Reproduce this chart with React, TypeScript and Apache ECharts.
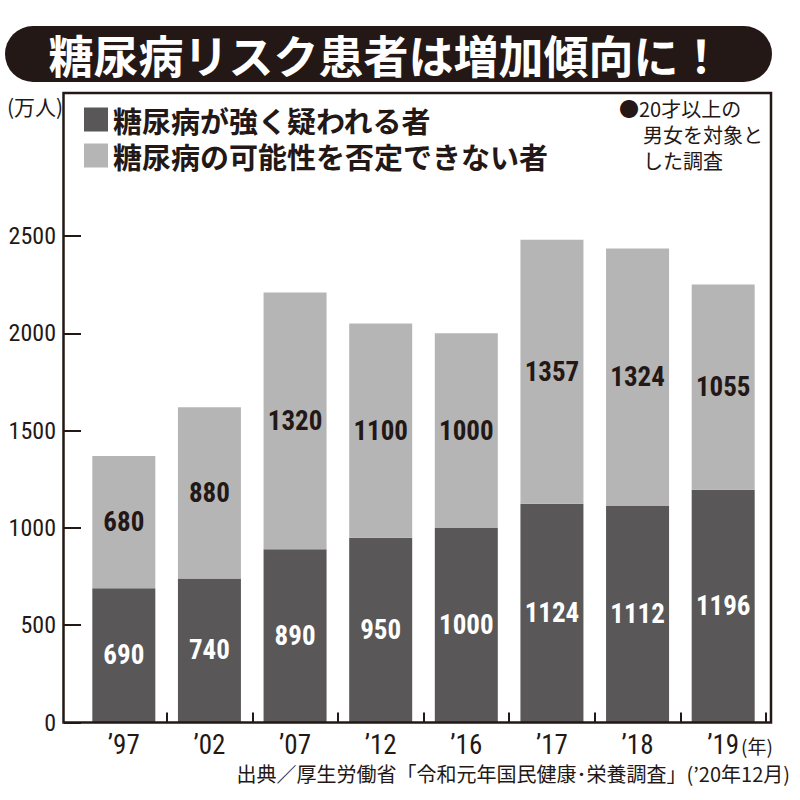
import React, { useEffect, useRef } from "react";
import * as echarts from "echarts";

const years = ["’97", "’02", "’07", "’12", "’16", "’17", "’18", "’19"];
const strongSuspected = [690, 740, 890, 950, 1000, 1124, 1112, 1196];
const cannotDeny = [680, 880, 1320, 1100, 1000, 1357, 1324, 1055];
const seriesNames = ["糖尿病が強く疑われる者", "糖尿病の可能性を否定できない者"];
const noteLines = ["●20才以上の", "男女を対象と", "した調査"];

const INK = "#231815";
const DARK = "#595757";
const LIGHT = "#b5b5b5";
const NUM_FONT = "'Roboto Condensed', 'Liberation Sans Narrow', 'DejaVu Sans Condensed', Roboto, sans-serif";
const JP_FONT = "'Noto Sans CJK JP', 'Noto Sans', sans-serif";

export default function App() {
  const ref = useRef<HTMLDivElement>(null);
  useEffect(() => {
    document.body.style.margin = "0";
    if (!ref.current) return;
    const chart = echarts.init(ref.current, null, { renderer: "svg" });
    chart.setOption({
      animation: false,
      backgroundColor: "#ffffff",
      grid: {
        left: 81,
        right: 34,
        top: 236,
        bottom: 77.5,
        containLabel: false,
        outerBoundsMode: "none",
      },
      legend: {
        orient: "vertical",
        left: 79,
        top: 99,
        itemWidth: 24,
        itemHeight: 24,
        itemGap: 5,
        icon: "rect",
        selectedMode: false,
        data: seriesNames,
        textStyle: {
          fontFamily: JP_FONT,
          fontWeight: "bold",
          fontSize: 29,
          lineHeight: 31,
          color: INK,
        },
      },
      xAxis: {
        type: "category",
        data: years,
        axisLine: { show: false },
        axisTick: {
          show: true,
          inside: true,
          length: 10,
          interval: (i: number) => i > 0,
          lineStyle: { color: INK, width: 2 },
        },
        axisLabel: {
          margin: 9,
          fontFamily: NUM_FONT,
          fontSize: 27,
          color: INK,
        },
      },
      yAxis: {
        type: "value",
        min: 0,
        max: 2500,
        interval: 500,
        offset: 17,
        axisLine: { show: false },
        axisTick: { show: true, inside: true, length: 17, lineStyle: { color: INK, width: 2 } },
        splitLine: { show: false },
        axisLabel: {
          margin: 8,
          fontFamily: NUM_FONT,
          fontSize: 24,
          color: INK,
          formatter: (v: number) => String(v),
        },
      },
      series: [
        {
          name: seriesNames[0],
          type: "bar",
          stack: "total",
          barWidth: 63,
          data: strongSuspected,
          itemStyle: { color: DARK },
          label: {
            show: true,
            position: "inside",
            color: "#ffffff",
            fontFamily: NUM_FONT,
            fontWeight: "bold",
            fontSize: 27,
          },
        },
        {
          name: seriesNames[1],
          type: "bar",
          stack: "total",
          barWidth: 63,
          data: cannotDeny,
          itemStyle: { color: LIGHT },
          label: {
            show: true,
            position: "inside",
            color: INK,
            fontFamily: NUM_FONT,
            fontWeight: "bold",
            fontSize: 27,
          },
        },
      ],
      graphic: [
        {
          type: "rect",
          shape: { x: 5, y: 26, width: 767, height: 56, r: 28 },
          style: { fill: INK },
          z: 10,
        },
        {
          type: "text",
          x: 386,
          y: 54,
          z: 11,
          style: {
            text: "糖尿病リスク患者は増加傾向に！",
            fill: "#ffffff",
            fontFamily: JP_FONT,
            fontWeight: "bold",
            fontSize: 45,
            align: "center",
            verticalAlign: "middle",
          },
        },
        {
          type: "rect",
          shape: { x: 63.5, y: 93, width: 707.5, height: 629.5 },
          style: { fill: "none", stroke: INK, lineWidth: 2.5 },
          z: 10,
        },
        {
          type: "text",
          x: 7,
          y: 106,
          style: {
            text: "(万人)",
            fill: INK,
            fontFamily: JP_FONT,
            fontSize: 21,
            verticalAlign: "middle",
          },
        },
        {
          type: "text",
          x: 619,
          y: 108,
          style: {
            text: noteLines[0],
            fill: INK,
            fontFamily: JP_FONT,
            fontSize: 20,
            verticalAlign: "middle",
          },
        },
        {
          type: "text",
          x: 643,
          y: 134,
          style: {
            text: noteLines[1],
            fill: INK,
            fontFamily: JP_FONT,
            fontSize: 20,
            verticalAlign: "middle",
          },
        },
        {
          type: "text",
          x: 643,
          y: 160,
          style: {
            text: noteLines[2],
            fill: INK,
            fontFamily: JP_FONT,
            fontSize: 20,
            verticalAlign: "middle",
          },
        },
        {
          type: "text",
          x: 741,
          y: 745,
          style: {
            text: "(年)",
            fill: INK,
            fontFamily: JP_FONT,
            fontSize: 19,
            verticalAlign: "middle",
          },
        },
        {
          type: "text",
          x: 790,
          y: 773,
          style: {
            text: "出典／厚生労働省「令和元年国民健康･栄養調査」(’20年12月)",
            fill: INK,
            fontFamily: JP_FONT,
            fontSize: 20,
            align: "right",
            verticalAlign: "middle",
          },
        },
      ],
    });
    return () => chart.dispose();
  }, []);
  return <div ref={ref} style={{ width: 800, height: 800 }} />;
}
